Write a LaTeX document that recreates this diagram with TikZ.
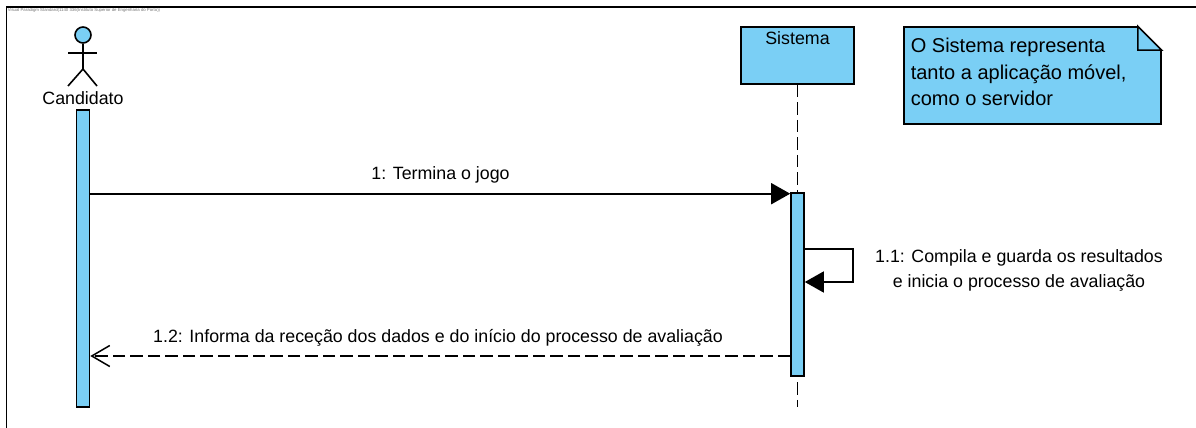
\documentclass[tikz,border=0pt]{standalone}
\usepackage{fontspec}
\usepackage{xcolor}
\setmainfont{Liberation Sans}
\usetikzlibrary{positioning,calc,arrows.meta}
\definecolor{umlblue}{RGB}{122,207,245}
\begin{document}
\begin{tikzpicture}[x=1pt, y=-1pt, auto, font=\fontsize{17.8}{20}\selectfont,
    line width=1.6pt,
    box/.style={draw, rectangle, fill=umlblue, inner sep=0pt},
    bar/.style={box, minimum width=13pt},
    msg/.style={-{Triangle[length=19pt,width=21pt]}},
    reply/.style={dash pattern=on 12.5pt off 5pt, -{Straight Barb[length=18pt,width=21pt,line width=1.5pt]}},
    txt/.style={inner sep=0pt, align=center}]
    \useasboundingbox (0,0) rectangle (1196,428);

    % Frame
    \coordinate (frameTop) at (1196,7);
    \coordinate (frameCorner) at (6.5,7);
    \coordinate (frameBottom) at (6.5,428);
    \draw (frameTop) -- (frameCorner) -- (frameBottom);
    \node [txt, anchor=west, text=black!55, font=\fontsize{4.3}{5}\selectfont] (title) at (7,10.5) {Visual Paradigm Standard(1140 336(Instituto Superior de Engenharia do Porto))};

    % Actor
    \node [box, circle, minimum size=16pt] (head) at (83,35) {};
    \coordinate (arm1) at (68,53);
    \coordinate (arm2) at (97,53);
    \coordinate (hip) at (83,69);
    \coordinate (leg1) at (68,86);
    \coordinate (leg2) at (97,86);
    \draw (head) -- (hip);
    \draw (arm1) -- (arm2);
    \draw (leg1) -- (hip) -- (leg2);
    \node [txt] (actor) at (83,98) {Candidato};
    \node [bar, minimum height=297pt] (barActor) at (83,258.5) {};

    % Sistema
    \node [box, minimum height=57pt, minimum width=113pt] (sys) at (797.5,55.5) {};
    \node [txt] (sysName) at (797.5,38) {Sistema};
    \coordinate (lifeEnd) at (797.5,407);
    \draw [dash pattern=on 12.5pt off 5pt] (sys.south) -- (lifeEnd);
    \node [bar, minimum height=183pt] (barSys) at (797.5,284.5) {};

    % Note
    \node [box, minimum height=97pt, minimum width=257pt] (note) at (1032.5,75.5) {};
    \coordinate (foldA) at ($(note.north east)+(-24,0)$);
    \coordinate (foldB) at ($(note.north east)+(0,24)$);
    \coordinate (foldC) at ($(note.north east)+(-24,24)$);
    \fill [white] ($(note.north east)+(-25,-1)$) -- ($(note.north east)+(1,-1)$) -- ($(note.north east)+(1,25)$) -- cycle;
    \draw [line join=miter] (foldA) -- (foldB) -- (foldC) -- cycle;
    \node [txt, anchor=north west, align=left, font=\fontsize{20}{26.6}\selectfont] (noteText) at (910,37.5) {O Sistema representa\\tanto a aplicação móvel,\\como o servidor};

    % Messages
    \coordinate (m1b) at (barSys.west |- 0,193.7);
    \draw [msg] (barActor.east |- m1b) -- (m1b);
    \node [txt] (m1) at (440.5,175) {1: Termina o jogo};

    \coordinate (s1) at (barSys.east |- 0,249);
    \coordinate (s2) at (853,249);
    \coordinate (s3) at (853,282);
    \coordinate (s4) at (barSys.east |- 0,282);
    \draw [msg] (s1) -- (s2) -- (s3) -- (s4);
    \node [txt] (m11) at (1019,270.5) {1.1: Compila e guarda os resultados\\[5pt]e inicia o processo de avaliação};

    \coordinate (r1) at (barSys.west |- 0,356);
    \coordinate (r2) at (barActor.east |- 0,356);
    \draw [reply] (r1) -- (r2);
    \node [txt] (m12) at (438,338) {1.2: Informa da receção dos dados e do início do processo de avaliação};

\end{tikzpicture}
\end{document}
